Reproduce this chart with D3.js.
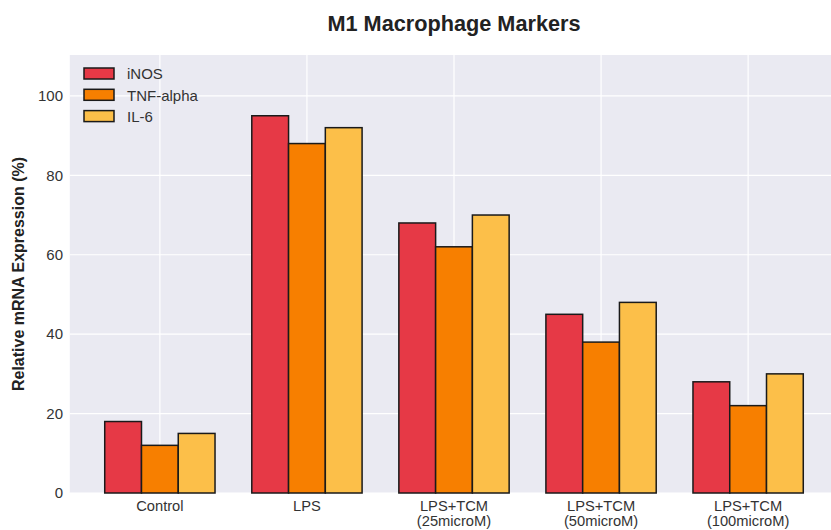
<!DOCTYPE html>
<html><head><meta charset="utf-8">
<script src="https://cdn.jsdelivr.net/npm/d3@7"></script>
<style>body{margin:0;background:#fff}svg{display:block}text{font-family:"Liberation Sans",Arial,sans-serif}</style>
</head><body><svg id="c" width="831" height="530"></svg>
<script>
const categories = [["Control"],["LPS"],["LPS+TCM","(25microM)"],["LPS+TCM","(50microM)"],["LPS+TCM","(100microM)"]];
const seriesNames = ["iNOS","TNF-alpha","IL-6"];
const iNOS = [18,95,68,45,28];
const tnfAlpha = [12,88,62,38,22];
const il6 = [15,92,70,48,30];
const yTicks = [0,20,40,60,80,100];
const colors = ["#E63946","#F77F00","#FCBF49"];
const series = [iNOS, tnfAlpha, il6];

const svg = d3.select("#c");
const plotTop = 55, plotBottom = 493;
const x = d3.scaleLinear().domain([-0.6125, 4.6125]).range([69.8, 838.2]);
const y = d3.scaleLinear().domain([0, 110.3]).range([plotBottom, plotTop]);
const bw = 0.25;

svg.append("rect").attr("x", x(-0.6125)).attr("y", plotTop).attr("width", x(4.6125)-x(-0.6125)).attr("height", plotBottom-plotTop).attr("fill", "#EAEAF2");
// grid
svg.append("g").selectAll("line").data(yTicks).join("line")
  .attr("x1", x(-0.6125)).attr("x2", x(4.6125)).attr("y1", d=>y(d)).attr("y2", d=>y(d))
  .attr("stroke", "#fff").attr("stroke-width", 1.2);
svg.append("g").selectAll("line").data(categories).join("line")
  .attr("x1", (d,i)=>x(i)).attr("x2", (d,i)=>x(i)).attr("y1", plotTop).attr("y2", plotBottom)
  .attr("stroke", "#fff").attr("stroke-width", 1.2);

// bars
series.forEach((vals, s) => {
  svg.append("g").selectAll("rect").data(vals).join("rect")
    .attr("x", (d,i)=>x(i + (s-1)*bw - bw/2))
    .attr("width", x(bw) - x(0))
    .attr("y", d=>y(d))
    .attr("height", d=>y(0)-y(d))
    .attr("fill", colors[s]).attr("stroke", "#1a1a1a").attr("stroke-width", 1.5);
});

// y axis labels
svg.append("g").selectAll("text").data(yTicks).join("text")
  .attr("x", 63).attr("y", d=>y(d)).attr("dy", "0.35em").attr("text-anchor", "end")
  .attr("font-size", 15).attr("fill", "#333").text(d=>d);

// x axis labels
const xl = svg.append("g").selectAll("text").data(categories).join("text")
  .attr("x", (d,i)=>x(i)).attr("y", 510.5).attr("text-anchor", "middle")
  .attr("font-size", 14.7).attr("fill", "#333");
xl.selectAll("tspan").data(d=>d).join("tspan")
  .attr("x", function(){return this.parentNode.getAttribute("x");})
  .attr("dy", (d,j)=>j===0?0:15.5).text(d=>d);

// title
svg.append("text").attr("x", 454).attr("y", 31).attr("text-anchor", "middle")
  .attr("font-size", 21.7).attr("font-weight", "bold").attr("fill", "#222").text("M1 Macrophage Markers");
// y label
svg.append("text").attr("transform", `translate(24,${(plotTop+plotBottom)/2}) rotate(-90)`)
  .attr("text-anchor", "middle").attr("font-size", 16).attr("font-weight", "bold").attr("fill", "#222")
  .text("Relative mRNA Expression (%)");

// legend
const lg = svg.append("g");
seriesNames.forEach((n, i) => {
  const cy = 74 + i*21.3;
  lg.append("rect").attr("x", 84).attr("y", cy-6).attr("width", 30).attr("height", 11)
    .attr("fill", colors[i]).attr("stroke", "#1a1a1a").attr("stroke-width", 1.5);
  lg.append("text").attr("x", 127).attr("y", cy).attr("dy", "0.35em")
    .attr("font-size", 15).attr("fill", "#333").text(n);
});
</script></body></html>
